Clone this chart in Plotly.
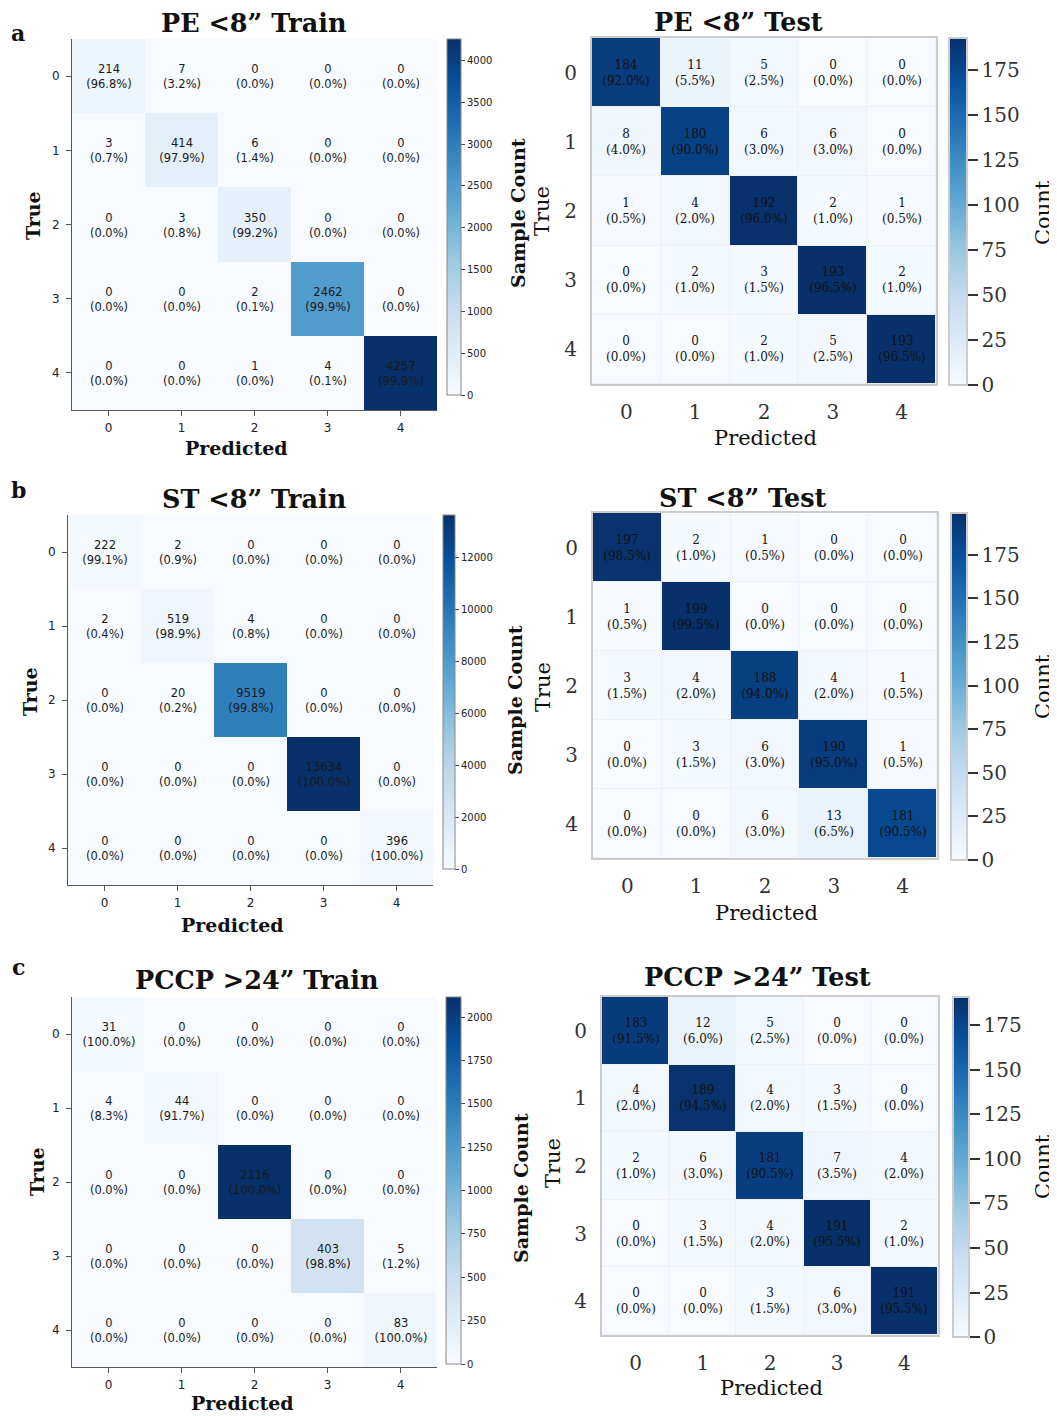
import plotly.graph_objects as go

# the page body has an 8px margin; the figure is sized to fill the rest of the window
OFF = 8
W, H = 1057 - OFF, 1416 - OFF

classes = ["0", "1", "2", "3", "4"]

pe_train = [[214, 7, 0, 0, 0], [3, 414, 6, 0, 0], [0, 3, 350, 0, 0], [0, 0, 2, 2462, 0], [0, 0, 1, 4, 4257]]
pe_test = [[184, 11, 5, 0, 0], [8, 180, 6, 6, 0], [1, 4, 192, 2, 1], [0, 2, 3, 193, 2], [0, 0, 2, 5, 193]]
st_train = [[222, 2, 0, 0, 0], [2, 519, 4, 0, 0], [0, 20, 9519, 0, 0], [0, 0, 0, 13634, 0], [0, 0, 0, 0, 396]]
st_test = [[197, 2, 1, 0, 0], [1, 199, 0, 0, 0], [3, 4, 188, 4, 1], [0, 3, 6, 190, 1], [0, 0, 6, 13, 181]]
pccp_train = [[31, 0, 0, 0, 0], [4, 44, 0, 0, 0], [0, 0, 2116, 0, 0], [0, 0, 0, 403, 5], [0, 0, 0, 0, 83]]
pccp_test = [[183, 12, 5, 0, 0], [4, 189, 4, 3, 0], [2, 6, 181, 7, 4], [0, 3, 4, 191, 2], [0, 0, 3, 6, 191]]

titles = ["PE <8” Train", "PE <8” Test", "ST <8” Train", "ST <8” Test",
          "PCCP >24” Train", "PCCP >24” Test"]
train_dticks = [500, 2000, 250]

blues = [[0.0, "rgb(247,251,255)"], [0.125, "rgb(222,235,247)"], [0.25, "rgb(198,219,239)"],
         [0.375, "rgb(158,202,225)"], [0.5, "rgb(107,174,214)"], [0.625, "rgb(66,146,198)"],
         [0.75, "rgb(33,113,181)"], [0.875, "rgb(8,81,156)"], [1.0, "rgb(8,48,107)"]]

def fx(px):
    return (px - OFF) / W

def fy(py):
    return 1 - (py - OFF) / H

def cell_text(m):
    out = []
    for row in m:
        s = sum(row)
        out.append([f"{v}<br>({100.0 * v / s:.1f}%)" for v in row])
    return out

# geometry in window pixels: heatmap box (l, r, t, b), colorbar (l, thickness, t, b)
panels = [
    dict(m=pe_train, kind="train", box=(72, 437, 39, 410), cb=(447, 14, 39, 395)),
    dict(m=pe_test, kind="test", box=(592, 936, 38, 384), cb=(949, 18, 38, 385)),
    dict(m=st_train, kind="train", box=(68, 433, 515, 885), cb=(443, 12, 515, 869)),
    dict(m=st_test, kind="test", box=(593, 937, 513, 858), cb=(951, 16, 513, 860)),
    dict(m=pccp_train, kind="train", box=(72, 437, 997, 1367), cb=(446, 15, 997, 1364)),
    dict(m=pccp_test, kind="test", box=(602, 938, 997, 1335), cb=(953, 16, 997, 1337)),
]

fig = go.Figure()
layout = dict(width=W, height=H, margin=dict(l=0, r=0, t=0, b=0),
              paper_bgcolor="white", plot_bgcolor="#edf1f5", showlegend=False)

train_i = 0
for i, p in enumerate(panels):
    n = i + 1
    m = p["m"]
    l, r, t, b = p["box"]
    cl, cth, ct, cb_ = p["cb"]
    zmax = max(max(row) for row in m)
    is_train = p["kind"] == "train"
    if is_train:
        cbar = dict(x=fx(cl), xanchor="left", xpad=0, y=fy(ct), yanchor="top", ypad=0,
                    len=cb_ - ct, lenmode="pixels", thickness=cth, thicknessmode="pixels",
                    outlinecolor="#888888", outlinewidth=1, ticks="outside", ticklen=4,
                    tickcolor="#444444", tick0=0, dtick=train_dticks[train_i], tickformat="d",
                    tickfont=dict(family="DejaVu Sans", size=10, color="#222222"))
        train_i += 1
        tfont = dict(family="DejaVu Sans", size=11.5, color="#1a1a1a")
        gap = 0
    else:
        cbar = dict(x=fx(cl), xanchor="left", xpad=0, y=fy(ct), yanchor="top", ypad=0,
                    len=cb_ - ct, lenmode="pixels", thickness=cth, thicknessmode="pixels",
                    outlinecolor="#cccccc", outlinewidth=2, ticks="outside", ticklen=10,
                    tickwidth=2, tickcolor="#333333", tick0=0, dtick=25, tickformat="d",
                    tickfont=dict(family="DejaVu Serif", size=20, color="#333333"))
        tfont = dict(family="DejaVu Serif", size=12, color="#111111")
        gap = 1
    fig.add_trace(go.Heatmap(
        z=m, x=[0, 1, 2, 3, 4], y=[0, 1, 2, 3, 4], text=cell_text(m), texttemplate="%{text}",
        textfont=tfont, colorscale=blues, zmin=0, zmax=zmax, colorbar=cbar,
        xgap=gap, ygap=gap, hoverinfo="skip",
        xaxis=f"x{n}", yaxis=f"y{n}"))
    xa = dict(domain=[fx(l), fx(r)], range=[-0.5, 4.5], anchor=f"y{n}",
              tickmode="array", tickvals=[0, 1, 2, 3, 4], ticktext=classes,
              showgrid=False, zeroline=False, fixedrange=True)
    ya = dict(domain=[fy(b), fy(t)], range=[4.5, -0.5], anchor=f"x{n}",
              tickmode="array", tickvals=[0, 1, 2, 3, 4], ticktext=classes,
              showgrid=False, zeroline=False, fixedrange=True)
    if is_train:
        for a in (xa, ya):
            a.update(showline=True, linecolor="#555555", linewidth=1, mirror=False,
                     ticks="outside", ticklen=5, tickcolor="#555555",
                     tickfont=dict(family="DejaVu Sans", size=12, color="#222222"))
        xa.update(ticklabelstandoff=2)
        ya.update(ticklabelstandoff=4)
    else:
        for a in (xa, ya):
            a.update(showline=True, linecolor="#cccccc", linewidth=2, mirror=True,
                     ticks="outside", ticklen=9, tickcolor="rgba(0,0,0,0)",
                     tickfont=dict(family="DejaVu Serif", size=20, color="#333333"))
    layout["xaxis" if n == 1 else f"xaxis{n}"] = xa
    layout["yaxis" if n == 1 else f"yaxis{n}"] = ya

fig.update_layout(**layout)

ann = []

def add(text, x, y, size, family="DejaVu Serif", bold=False, angle=0, color="#111111"):
    ann.append(dict(text=f"<b>{text}</b>" if bold else text, x=fx(x), y=fy(y), xref="paper",
                    yref="paper", xanchor="center", yanchor="middle", showarrow=False,
                    textangle=angle, font=dict(family=family, size=size, color=color)))

# panel letters
add("a", 18, 33, 22, bold=True)
add("b", 18, 490, 22, bold=True)
add("c", 18, 967, 22, bold=True)

# titles
title_pos = [(253, 23), (738, 22), (254, 499), (743, 498), (257, 980), (757, 977)]
for ttl, (x, y) in zip(titles, title_pos):
    add(ttl, x, y, 25.5, bold=True)

# train labels
for (px, py), (tx, ty), (sx, sy) in [((236, 448), (33, 216), (518, 213)),
                                      ((232, 925), (30, 692), (515, 700)),
                                      ((242, 1403), (37, 1172), (521, 1188))]:
    add("Predicted", px, py, 19, bold=True)
    add("True", tx, ty, 19, bold=True, angle=-90)
    add("Sample Count", sx, sy, 19, bold=True, angle=-90)

# test labels
for (px, py), (tx, ty), (cx, cy) in [((765, 438), (542, 211), (1043, 213)),
                                      ((766, 913), (543, 687), (1043, 687)),
                                      ((771, 1388), (553, 1163), (1043, 1167))]:
    add("Predicted", px, py, 21)
    add("True", tx, ty, 21, angle=-90)
    add("Count", cx, cy, 21, angle=-90)

fig.update_layout(annotations=ann)
fig.write_html("out.html")
